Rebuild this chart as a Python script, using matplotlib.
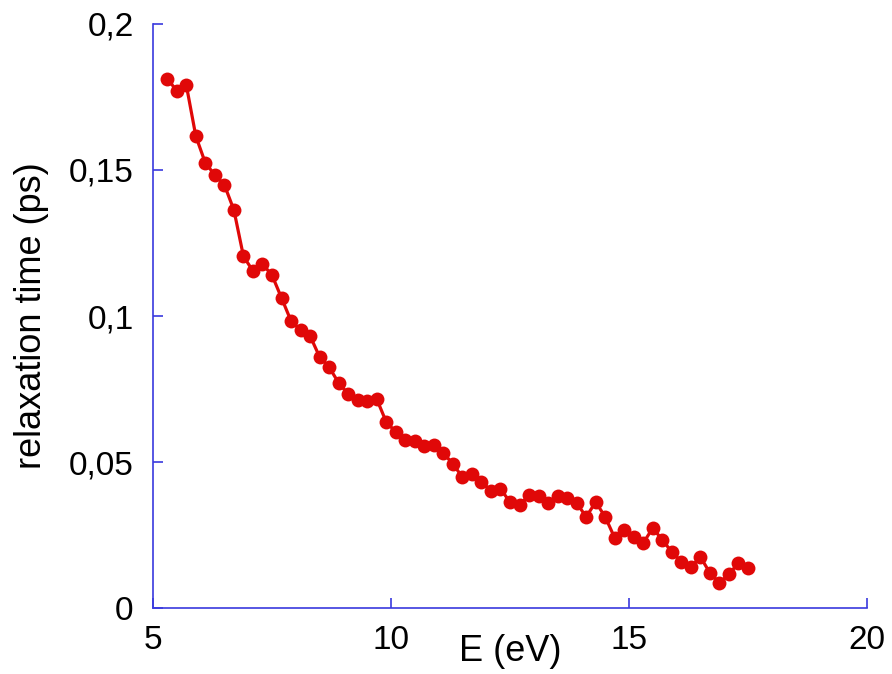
import matplotlib
matplotlib.use("Agg")
import matplotlib.pyplot as plt
import numpy as np
from matplotlib.ticker import FixedLocator, FuncFormatter

# energy (eV), step 0.2 from 5.3 to 17.5
energy = [5.3, 5.5, 5.7, 5.9, 6.1, 6.3, 6.5, 6.7, 6.9, 7.1,
          7.3, 7.5, 7.7, 7.9, 8.1, 8.3, 8.5, 8.7, 8.9, 9.1,
          9.3, 9.5, 9.7, 9.9, 10.1, 10.3, 10.5, 10.7, 10.9, 11.1,
          11.3, 11.5, 11.7, 11.9, 12.1, 12.3, 12.5, 12.7, 12.9, 13.1,
          13.3, 13.5, 13.7, 13.9, 14.1, 14.3, 14.5, 14.7, 14.9, 15.1,
          15.3, 15.5, 15.7, 15.9, 16.1, 16.3, 16.5, 16.7, 16.9, 17.1,
          17.3, 17.5]
# relaxation time (ps)
tau = [0.1812, 0.1772, 0.1791, 0.1616, 0.1524, 0.1483, 0.1449, 0.1363, 0.1205, 0.1154,
       0.1178, 0.1140, 0.1062, 0.0983, 0.0952, 0.0932, 0.0860, 0.0825, 0.0771, 0.0733,
       0.0712, 0.0709, 0.0716, 0.0637, 0.0603, 0.0575, 0.0573, 0.0556, 0.0558, 0.0530,
       0.0494, 0.0448, 0.0460, 0.0432, 0.0402, 0.0408, 0.0363, 0.0353, 0.0387, 0.0384,
       0.0360, 0.0384, 0.0377, 0.0360, 0.0312, 0.0363, 0.0312, 0.0240, 0.0267, 0.0243,
       0.0223, 0.0274, 0.0233, 0.0192, 0.0158, 0.0140, 0.0175, 0.0120, 0.0086, 0.0116,
       0.0154, 0.0137]

xticks = [5, 10, 15, 20]
yticks = [0, 0.05, 0.1, 0.15, 0.2]
ytick_labels = ["0", "0,05", "0,1", "0,15", "0,2"]

plt.rcParams['font.family'] = ['Liberation Sans', 'DejaVu Sans']
axis_col = '#3a3ade'

fig = plt.figure(figsize=(8.92, 6.74), dpi=100)
ax = fig.add_axes([0.1715, 0.0979, 0.8005, 0.8665])

ax.plot(energy, tau, color='#e00808', linewidth=2.3, marker='o',
        markersize=10, markeredgewidth=0, clip_on=False)

ax.set_xlim(5, 20)
ax.set_ylim(0, 0.2)
ax.xaxis.set_major_locator(FixedLocator(xticks))
ax.yaxis.set_major_locator(FixedLocator(yticks))
ax.set_yticklabels(ytick_labels)

for s in ['top', 'right']:
    ax.spines[s].set_visible(False)
for s in ['left', 'bottom']:
    ax.spines[s].set_color(axis_col)
    ax.spines[s].set_linewidth(1.2)

ax.tick_params(direction='in', length=7, width=1.2, color=axis_col,
               labelsize=24, labelcolor='black')
ax.tick_params(axis='x', pad=12)
ax.tick_params(axis='y', pad=14)

ax.set_xlabel("E (eV)", fontsize=26)
ax.xaxis.set_label_coords(0.5, -0.045)
ax.set_ylabel("relaxation time (ps)", fontsize=26)
ax.yaxis.set_label_coords(-0.145, 0.5)

fig.savefig("out.png", dpi=100)
